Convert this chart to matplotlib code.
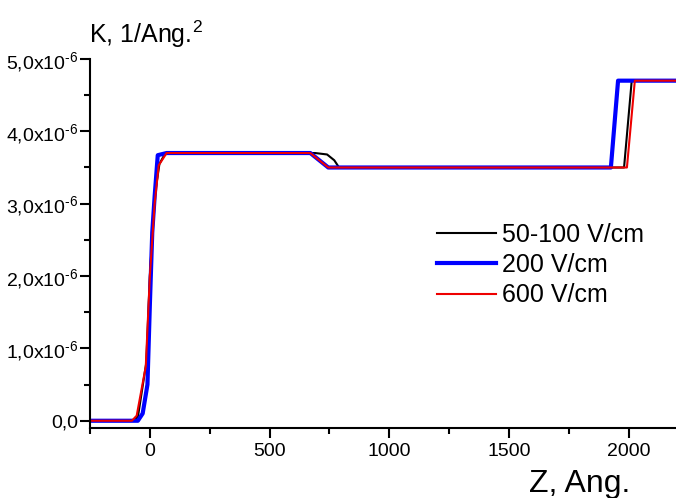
import matplotlib.pyplot as plt
from matplotlib.ticker import FuncFormatter, MultipleLocator

plt.rcParams['font.family'] = ['Liberation Sans', 'DejaVu Sans']
plt.rcParams['mathtext.fontset'] = 'custom'
plt.rcParams['mathtext.rm'] = 'Liberation Sans'
plt.rcParams['mathtext.it'] = 'Liberation Sans'

# profiles (Z in Angstrom, K in 1/Ang^2)
z_black = [-250, -70, -50, -15, 0, 20, 40, 65, 690, 740, 770, 790, 1980, 2012, 2200]
k_black = [0, 0, 0.05e-6, 0.8e-6, 2.0e-6, 3.1e-6, 3.55e-6, 3.7e-6, 3.7e-6, 3.68e-6, 3.6e-6, 3.5e-6, 3.5e-6, 4.7e-6, 4.7e-6]

z_blue = [-250, -50, -30, -10, 0, 10, 20, 33, 70, 670, 745, 1925, 1955, 2200]
k_blue = [0, 0, 0.1e-6, 0.5e-6, 1.6e-6, 2.6e-6, 3.1e-6, 3.67e-6, 3.7e-6, 3.7e-6, 3.5e-6, 3.5e-6, 4.7e-6, 4.7e-6]

z_red = [-250, -75, -55, -17, 0, 20, 37, 70, 670, 745, 1992, 2025, 2200]
k_red = [0, 0, 0.07e-6, 0.75e-6, 2.0e-6, 3.0e-6, 3.53e-6, 3.7e-6, 3.7e-6, 3.5e-6, 3.5e-6, 4.7e-6, 4.7e-6]

labels = ['50-100 V/cm', '200 V/cm', '600 V/cm']


def sci_fmt(v, pos):
    if abs(v) < 1e-12:
        return '0,0'
    return ('%.1f' % (v * 1e6)).replace('.', ',') + r'x10$^{\text{-6}}$'


fig = plt.figure(figsize=(6.76, 4.98), dpi=100)
ax = fig.add_axes([0.1331, 0.1406, 0.868, 0.741])

ax.plot(z_black, k_black, color='black', lw=1.5, label=labels[0])
ax.plot(z_blue, k_blue, color='#0000ff', lw=3, label=labels[1])
ax.plot(z_red, k_red, color='#ee0000', lw=1.5, label=labels[2])

ax.set_xlim(-250, 2200)
ax.set_ylim(-0.1e-6, 5e-6)
ax.xaxis.set_major_locator(MultipleLocator(500))
ax.xaxis.set_minor_locator(MultipleLocator(250))
ax.yaxis.set_major_locator(MultipleLocator(1e-6))
ax.yaxis.set_minor_locator(MultipleLocator(0.5e-6))
ax.yaxis.set_major_formatter(FuncFormatter(sci_fmt))

for s in ['top', 'right']:
    ax.spines[s].set_visible(False)
for s in ['left', 'bottom']:
    ax.spines[s].set_linewidth(1.5)
ax.tick_params(which='major', direction='out', length=7, width=1.5)
ax.tick_params(which='minor', direction='out', length=4, width=1.5)
ax.tick_params(axis='x', labelsize=14)
ax.tick_params(axis='y', labelsize=14, pad=1.5)

fig.text(0.132, 1 - 43 / 498, 'K, 1/Ang.$^2$', fontsize=18, va='baseline')
fig.text(0.858, 0.012, 'Z, Ang.', fontsize=23, ha='center', va='baseline')

ax.legend(loc='upper left', bbox_to_anchor=(0.591, 0.556), frameon=False,
          fontsize=18, handlelength=2.35, handletextpad=0.25,
          labelspacing=0.25, borderpad=0, borderaxespad=0)

fig.savefig('out.png', dpi=100)
